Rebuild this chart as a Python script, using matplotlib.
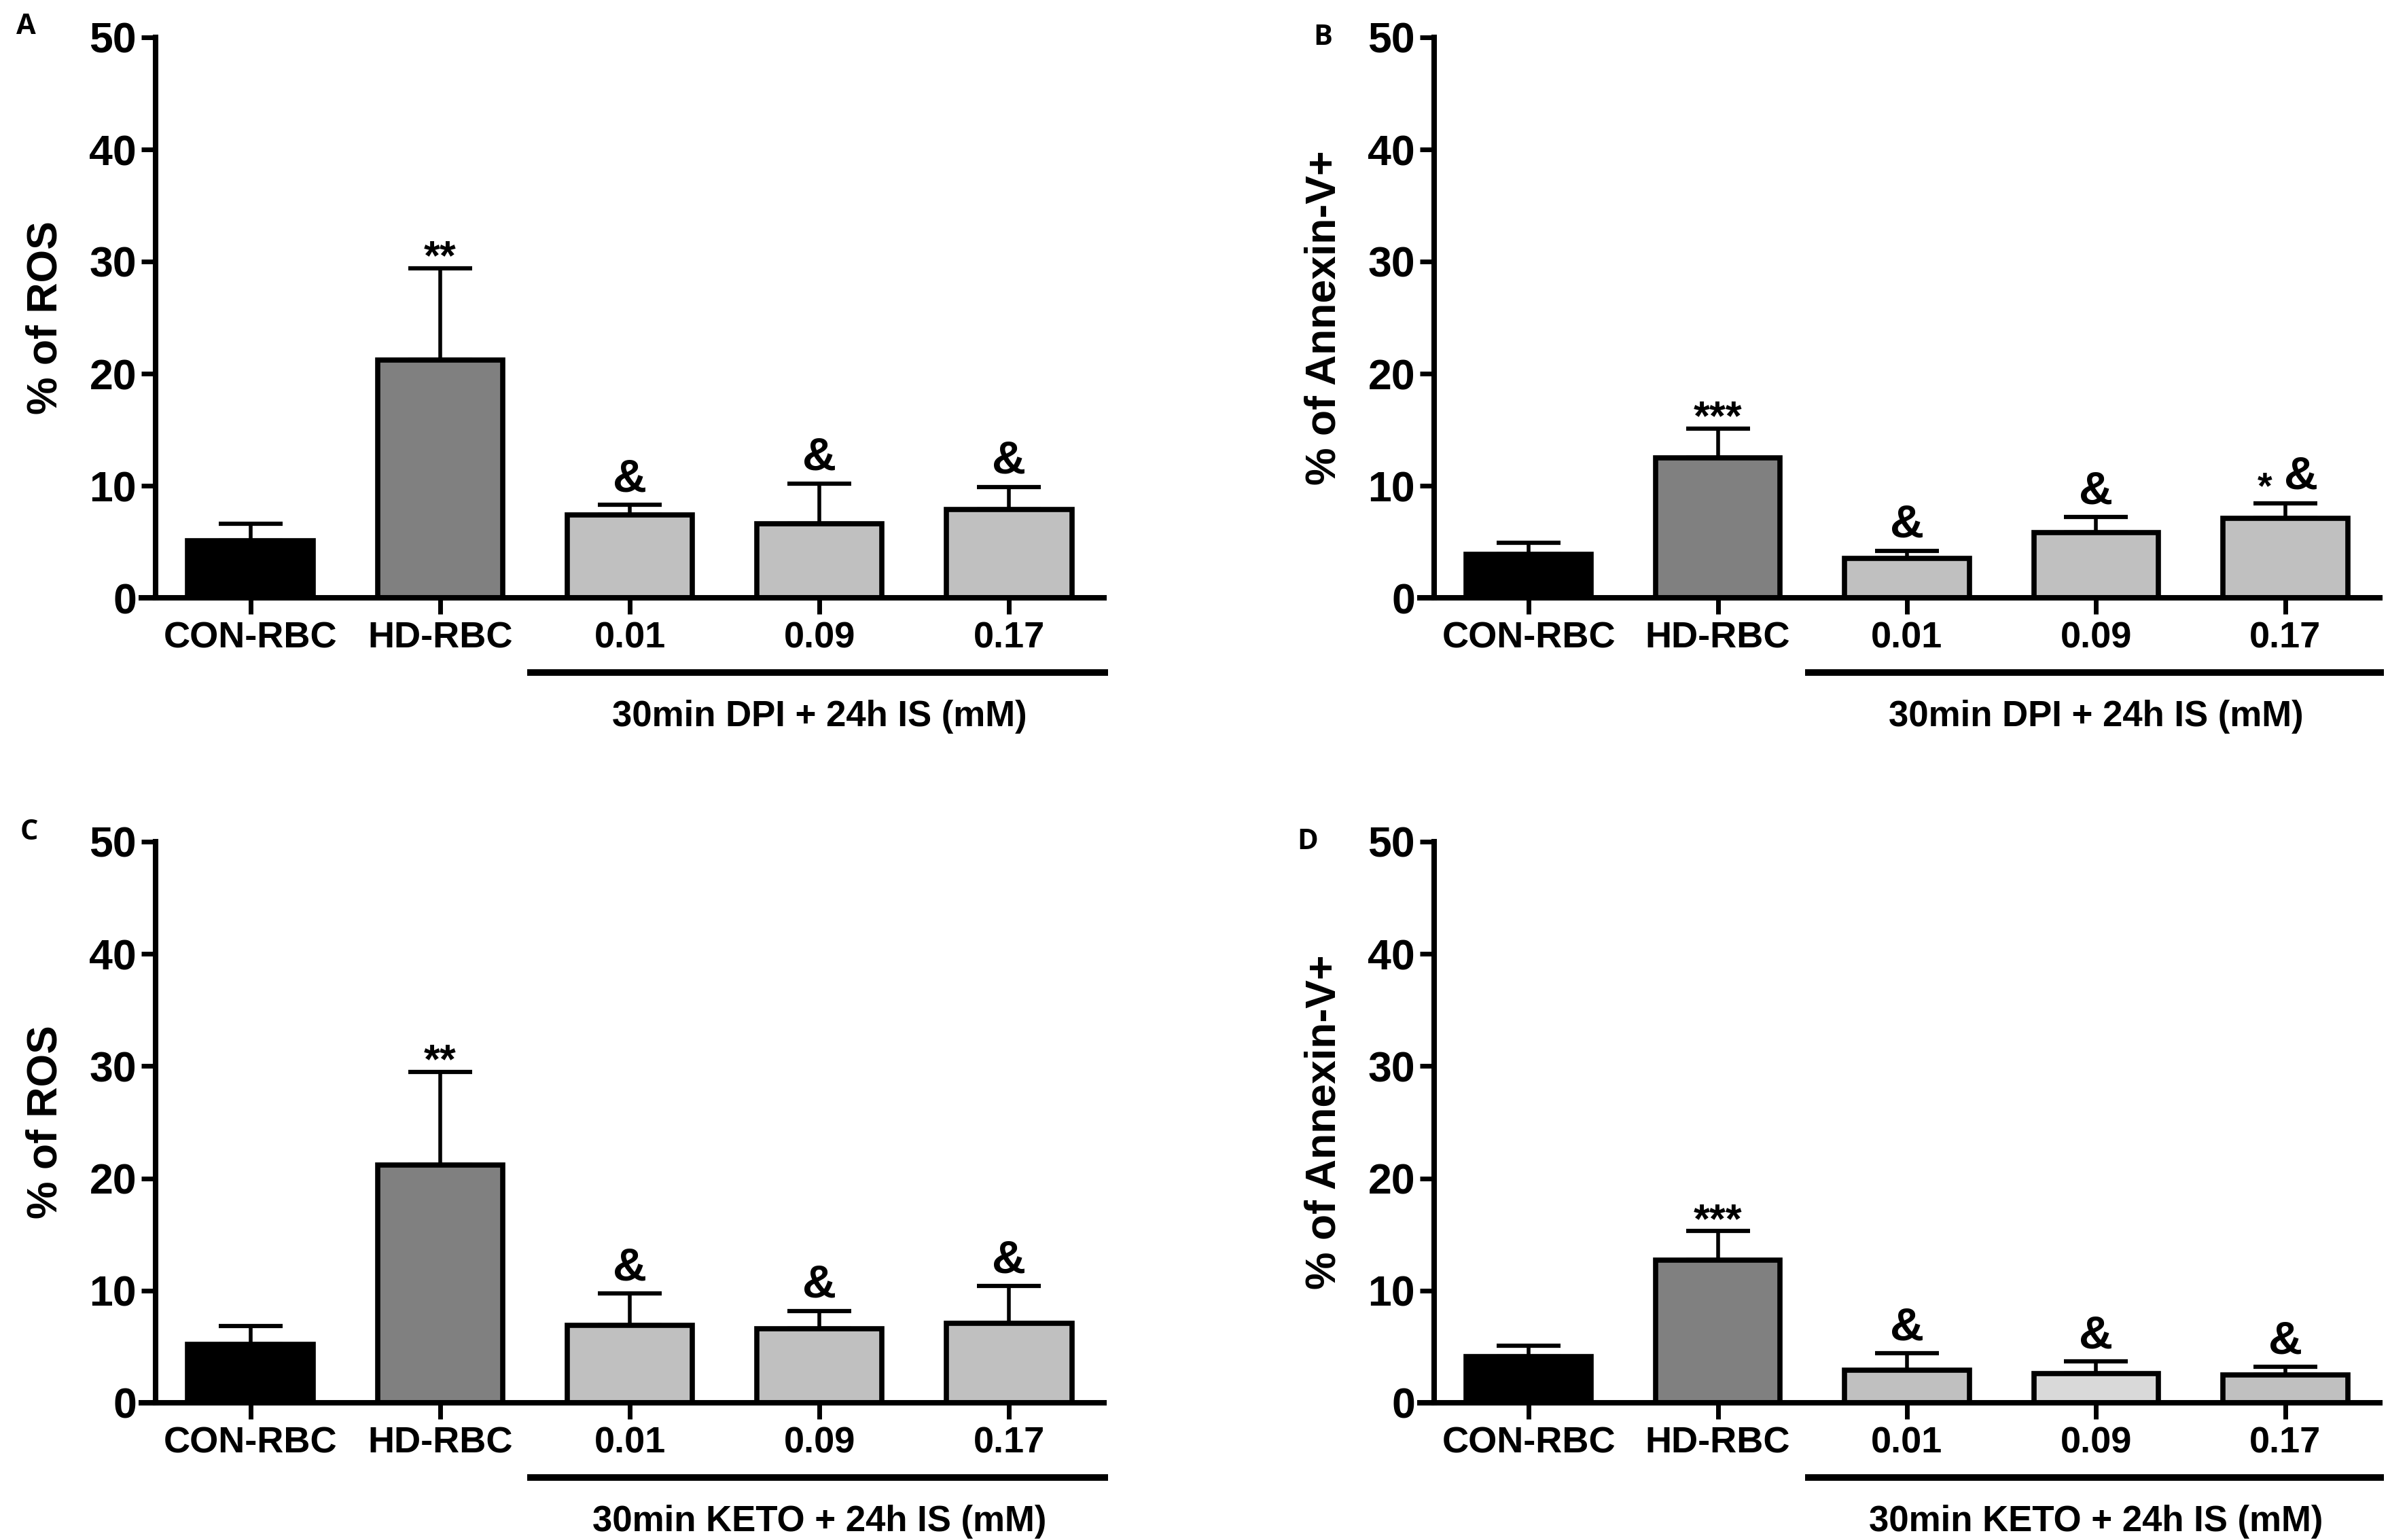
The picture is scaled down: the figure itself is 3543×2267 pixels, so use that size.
import numpy as np
import matplotlib
matplotlib.use('Agg')
import matplotlib.pyplot as plt
import matplotlib.transforms as mtransforms

plt.rcParams['font.family'] = ['Liberation Sans', 'DejaVu Sans']
plt.rcParams['font.weight'] = 'bold'

groups = ['CON-RBC', 'HD-RBC', '0.01', '0.09', '0.17']

ros_dpi = [5.1, 21.2, 7.4, 6.6, 7.9]
ros_dpi_err = [1.5, 8.2, 0.9, 3.6, 2.0]
anx_dpi = [3.9, 12.5, 3.5, 5.8, 7.1]
anx_dpi_err = [1.0, 2.6, 0.7, 1.4, 1.3]
ros_keto = [5.2, 21.2, 6.9, 6.6, 7.1]
ros_keto_err = [1.65, 8.3, 2.85, 1.6, 3.3]
anx_keto = [4.1, 12.7, 2.9, 2.6, 2.5]
anx_keto_err = [1.0, 2.6, 1.5, 1.1, 0.7]

sig_ros_dpi = ['', '**', '&', '&', '&']
sig_anx_dpi = ['', '***', '&', '&', '*&']
sig_ros_keto = ['', '**', '&', '&', '&']
sig_anx_keto = ['', '***', '&', '&', '&']

ylabels = ['% of ROS', '% of Annexin-V+']
group_titles = ['30min DPI + 24h IS (mM)', '30min KETO + 24h IS (mM)']
panel_letters = ['A', 'B', 'C', 'D']

base_colors = ['#000000', '#808080', '#c0c0c0', '#c0c0c0', '#c0c0c0']
keto_anx_colors = ['#000000', '#808080', '#c0c0c0', '#d9d9d9', '#c0c0c0']

fig = plt.figure(figsize=(35.43, 22.67), dpi=100)

W, H = 3543, 2267
panels = [
    # left px, axis-top px, zero px, right px
    (229, 55, 880, 1625),
    (2111, 55, 880, 3503),
    (229, 1239, 2065, 1625),
    (2111, 1239, 2065, 3503),
]
letter_pos = [(38, 40), (1947, 55), (43, 1225), (1925, 1239)]

series = [
    (ros_dpi, ros_dpi_err, sig_ros_dpi, ylabels[0], group_titles[0], base_colors),
    (anx_dpi, anx_dpi_err, sig_anx_dpi, ylabels[1], group_titles[0], base_colors),
    (ros_keto, ros_keto_err, sig_ros_keto, ylabels[0], group_titles[1], base_colors),
    (anx_keto, anx_keto_err, sig_anx_keto, ylabels[1], group_titles[1], keto_anx_colors),
]

x = np.arange(len(groups))

for i, ((l, t, z, r), (vals, errs, sig, ylab, gtitle, cols)) in enumerate(zip(panels, series)):
    ax = fig.add_axes([l / W, 1 - z / H, (r - l) / W, (z - t) / H])
    ax.bar(x, vals, width=0.66, color=cols, edgecolor='black', linewidth=5.5, zorder=2)
    ax.errorbar(x, vals, yerr=[np.zeros(len(errs)), errs], fmt='none', ecolor='black',
                elinewidth=4, capsize=34, capthick=4.5, zorder=1)

    ax.set_xlim(-0.5, 4.5)
    ax.set_ylim(0, 50)
    ax.set_yticks([0, 10, 20, 30, 40, 50])
    ax.set_xticks(x)
    ax.set_xticklabels(groups, fontsize=39, fontweight='bold')
    for lab in ax.get_yticklabels():
        lab.set_fontsize(45)
        lab.set_fontweight('bold')
    ax.tick_params(axis='y', length=15, width=5, pad=5)
    ax.tick_params(axis='x', length=17, width=5, pad=8)
    for s in ['top', 'right']:
        ax.spines[s].set_visible(False)
    for s in ['left', 'bottom']:
        ax.spines[s].set_linewidth(5.8)
    ax.plot([-0.018, 0], [0, 0], transform=ax.transAxes, color='black', lw=5.8,
            clip_on=False, solid_capstyle='butt')

    ax.set_ylabel(ylab, fontsize=45, fontweight='bold')
    ax.yaxis.set_label_coords(-0.095, 0.5)

    # significance marks
    for xi, v, e, m in zip(x, vals, errs, sig):
        top = v + e
        if m == '&':
            ax.text(xi, top + 1.2, '&', ha='center', va='baseline', fontsize=50, fontweight='bold')
        elif m == '*&':
            ax.text(xi - 0.11, top + 0.5, '*', ha='center', va='baseline', fontsize=40, fontweight='bold')
            ax.text(xi + 0.085, top + 1.3, '&', ha='center', va='baseline', fontsize=50, fontweight='bold')
        elif m:
            ax.text(xi, top - 0.1, m, ha='center', va='baseline', fontsize=44, fontweight='bold')

    # group underline and title
    trans = mtransforms.blended_transform_factory(ax.transData, ax.transAxes)
    ax.plot([1.46, 4.52], [-0.133, -0.133], transform=trans, color='black', lw=7,
            clip_on=False, solid_capstyle='butt')
    ax.text(3.0, -0.212, gtitle, transform=trans, ha='center', va='center',
            fontsize=38, fontweight='bold')

    lx, ly = letter_pos[i]
    fig.text(lx / W, 1 - ly / H, panel_letters[i], ha='center', va='center',
             fontsize=30, fontweight='bold', family=['Open Sans', 'DejaVu Sans'])

fig.savefig('out.png', dpi=100, facecolor='white')
